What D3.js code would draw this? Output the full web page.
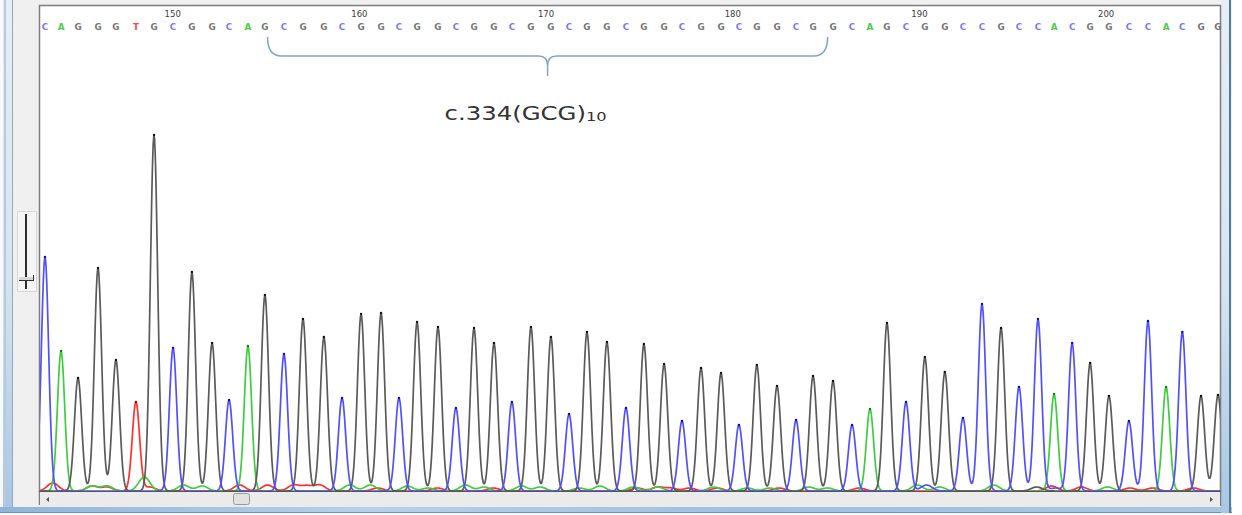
<!DOCTYPE html>
<html>
<head>
<meta charset="utf-8">
<script src="https://cdn.jsdelivr.net/npm/d3@7"></script>
<style>
body { margin: 0; background: #fff; overflow: hidden; }
svg { display: block; }
</style>
</head>
<body>
<svg class="chromatogram" width="1242" height="515"></svg>
<script>
// Base calls in view, starting at position 143
var firstBase = 143;
var bases = ("CAGGGTGCGGCA" + "GCGGCGGCGGCGGCGGCGGCGGCGGCGGCG" + "GCAGCGGCCGCCACGGCCACGG").split("");

// Peak centres (in base-position units)
var peakPos = [143.08, 143.94, 144.85, 145.92, 146.88, 147.95, 148.92, 149.94, 150.95, 152.03,
	152.94, 153.95, 154.86, 155.88, 156.90, 158.02, 158.99, 160.01, 161.08, 162.04,
	163.01, 164.13, 165.09, 166.06, 167.13, 168.09, 169.11, 170.18, 171.15, 172.11,
	173.18, 174.20, 175.16, 176.24, 177.20, 178.22, 179.29, 180.25, 181.21, 182.29,
	183.31, 184.22, 185.29, 186.31, 187.27, 188.18, 189.20, 190.21, 191.28, 192.25,
	193.27, 194.29, 195.25, 196.27, 197.13, 198.10, 199.06, 200.07, 201.14, 202.16,
	203.13, 204.00, 205.00, 205.91];

// Peak heights (signal) for each base call
var peakHeight = [234, 140, 113, 223, 131, 89, 356, 143, 219, 148,
	91, 145, 196, 137, 172, 154, 93, 177, 178, 93,
	169, 164, 83, 163, 148, 89, 164, 154, 77, 159,
	149, 83, 147, 127, 70, 123, 118, 66, 126, 105,
	71, 115, 110, 66, 82, 168, 89, 134, 119, 73,
	187, 163, 104, 172, 97, 148, 128, 95, 70, 170,
	104, 159, 95, 96];

// Small background signals near the baseline: [position, height]
var minorT = [[143.5, 8], [145.6, 5], [146.4, 4], [148.7, 4], [153.5, 6], [155.0, 6], [156.4, 6],
	[157.1, 5], [157.8, 6], [160.9, 3], [164.1, 3], [167.1, 3], [174.8, 3], [175.9, 4],
	[176.6, 3], [177.6, 3], [179.1, 3], [182.4, 3], [186.7, 3], [197.0, 5], [198.6, 4],
	[201.2, 3], [202.4, 3], [204.6, 3]];
var minorA = [[145.6, 5], [146.4, 5], [148.4, 14], [150.5, 6], [151.5, 5], [159.4, 6], [160.5, 6],
	[162.5, 5], [163.6, 3], [165.6, 6], [166.6, 4], [168.6, 5], [169.6, 4], [171.7, 3],
	[172.8, 5], [174.6, 4], [175.9, 4], [178.9, 4], [180.7, 3], [181.9, 3], [184.0, 4],
	[185.0, 3], [189.8, 6], [191.0, 4], [193.9, 6], [200.0, 4]];
var minorC = [[190.3, 6], [197.2, 3]];
var minorG = [[196.2, 4]];

// Ruler labels and the annotated repeat
var rulerTicks = [150, 160, 170, 180, 190, 200];
var repeatStart = 155, repeatEnd = 185;
var repeatLabel = "c.334(GCG)", repeatCount = "10";

var channels = [
	{base: "G", trace: "#5a5a5a", dot: "#111", letter: "#767676", minor: minorG},
	{base: "A", trace: "#40cc40", dot: "#1a7a1a", letter: "#4ccc4c", minor: minorA},
	{base: "T", trace: "#ff3030", dot: "#a00", letter: "#f04a4a", minor: minorT},
	{base: "C", trace: "#5050ff", dot: "#101080", letter: "#7878f4", minor: minorC}
];

function drawChromatogram() {
	var plot = {left: 39, right: 1220, top: 5, bottom: 491};

	var x = d3.scaleLinear()
		.domain([143, 205])
		.range([43.5, 1201]);

	var y = d3.scaleLinear()
		.domain([0, 360])
		.range([plot.bottom, plot.bottom - 360]);

	var svg = d3.select(".chromatogram");
	var defs = svg.append("defs");

	var lg = defs.append("linearGradient").attr("id", "frameL")
		.attr("x1", 0).attr("y1", 0).attr("x2", 0).attr("y2", 1);
	lg.append("stop").attr("offset", "0").attr("stop-color", "#e6eef6");
	lg.append("stop").attr("offset", "0.55").attr("stop-color", "#d6e4f2");
	lg.append("stop").attr("offset", "1").attr("stop-color", "#a9c6e4");

	var bg = defs.append("linearGradient").attr("id", "frameB")
		.attr("x1", 0).attr("y1", 0).attr("x2", 1).attr("y2", 0);
	bg.append("stop").attr("offset", "0").attr("stop-color", "#8fb6da");
	bg.append("stop").attr("offset", "0.3").attr("stop-color", "#b7d0e8");
	bg.append("stop").attr("offset", "0.6").attr("stop-color", "#9fc0e0");
	bg.append("stop").attr("offset", "1").attr("stop-color", "#a8c6e2");

	defs.append("clipPath").attr("id", "plotClip")
	  .append("rect")
		.attr("x", plot.left + 1).attr("y", plot.top + 1)
		.attr("width", plot.right - plot.left - 1)
		.attr("height", plot.bottom - plot.top);

	// Window frame
	svg.append("rect").attr("x", 0).attr("y", 0).attr("width", 1232).attr("height", 514).attr("fill", "#f0f0f0");
	svg.append("rect").attr("x", 0).attr("y", 0).attr("width", 13).attr("height", 510).attr("fill", "url(#frameL)");
	svg.append("rect").attr("x", 0).attr("y", 0).attr("width", 3).attr("height", 510).attr("fill", "#f7f9fb");
	svg.append("rect").attr("x", 4).attr("y", 0).attr("width", 2).attr("height", 508).attr("fill", "#b9c9d9");
	svg.append("rect").attr("x", 12).attr("y", 0).attr("width", 1).attr("height", 508).attr("fill", "#9aa6b2");
	svg.append("rect").attr("x", 0).attr("y", 507).attr("width", 1232).attr("height", 6).attr("fill", "url(#frameB)");
	svg.append("rect").attr("x", 0).attr("y", 512).attr("width", 1232).attr("height", 1).attr("fill", "#6f93b3");
	svg.append("rect").attr("x", 1221).attr("y", 0).attr("width", 8).attr("height", 513).attr("fill", "url(#frameL)");
	svg.append("rect").attr("x", 1229).attr("y", 0).attr("width", 2).attr("height", 513).attr("fill", "#4f7d94");

	// Plot area
	svg.append("rect")
		.attr("x", plot.left).attr("y", plot.top)
		.attr("width", plot.right - plot.left).attr("height", plot.bottom - plot.top)
		.attr("fill", "#fff");
	svg.append("path")
		.attr("d", "M" + (plot.left + 0.5) + "," + (plot.bottom + 14) + "V" + (plot.top + 0.5) + "H" + (plot.right + 0.5) + "V" + (plot.bottom + 15))
		.attr("fill", "none").attr("stroke", "#7d7d7d").attr("stroke-width", 1.5);

	// Zoom slider at the left
	svg.append("rect").attr("x", 17.5).attr("y", 211.5).attr("width", 19).attr("height", 80)
		.attr("fill", "#f5f5f5").attr("stroke", "#d6d6d6");
	svg.append("rect").attr("x", 25).attr("y", 214).attr("width", 2).attr("height", 75).attr("fill", "#2e2e2e");
	svg.append("rect").attr("x", 19).attr("y", 277).attr("width", 15).attr("height", 3).attr("fill", "#d8d8d8");
	svg.append("path").attr("d", "M19,280.5H34M33.5,275V281").attr("stroke", "#333").attr("fill", "none");

	// Scrollbar
	svg.append("rect").attr("x", plot.left + 1).attr("y", plot.bottom + 1)
		.attr("width", plot.right - plot.left - 1).attr("height", 15).attr("fill", "#ebebeb");
	svg.append("rect").attr("x", 233.5).attr("y", 493.5).attr("width", 16).attr("height", 11).attr("rx", 2)
		.attr("fill", "#e2e2e2").attr("stroke", "#9a9a9a");
	svg.append("path").attr("d", "M46,499.5L49,497V502Z").attr("fill", "#555");
	svg.append("path").attr("d", "M1213,499.5L1210,497V502Z").attr("fill", "#555");

	// Ruler numbers
	var ruler = svg.append("g")
		.attr("transform", "translate(-2,17)")
		.call(d3.axisTop(x).tickValues(rulerTicks).tickSize(0).tickPadding(0));
	ruler.select(".domain").remove();
	ruler.selectAll("text")
		.attr("font-family", "DejaVu Sans")
		.attr("font-size", 8.5)
		.attr("fill", "#3c3c3c");

	// Base letters
	var colorOf = {};
	channels.forEach(function(c) { colorOf[c.base] = c; });

	svg.append("g").selectAll("text")
		.data(bases)
	  .enter().append("text")
		.attr("x", function(d, i) { return x(peakPos[i]); })
		.attr("y", 30)
		.attr("text-anchor", "middle")
		.attr("font-family", "DejaVu Sans")
		.attr("font-weight", "bold")
		.attr("font-size", 8.8)
		.attr("fill", function(d) { return colorOf[d].letter; })
		.text(function(d) { return d; });

	// Repeat brace and label
	var bx0 = x(repeatStart), bx1 = x(repeatEnd), bc = x((repeatStart + repeatEnd) / 2);
	var p = d3.path();
	p.moveTo(bx0, 37);
	p.quadraticCurveTo(bx0, 56, bx0 + 14, 56);
	p.lineTo(bc - 9, 56);
	p.quadraticCurveTo(bc, 56, bc, 66);
	p.lineTo(bc, 76);
	p.moveTo(bc, 66);
	p.quadraticCurveTo(bc, 56, bc + 9, 56);
	p.lineTo(bx1 - 14, 56);
	p.quadraticCurveTo(bx1, 56, bx1, 37);
	svg.append("path")
		.attr("d", p.toString())
		.attr("fill", "none")
		.attr("stroke", "#7fa3cf")
		.attr("stroke-width", 1.5);

	var label = svg.append("text")
		.attr("transform", "translate(" + (bc - 103) + ",120) scale(1.25,1)")
		.attr("font-family", "DejaVu Sans")
		.attr("font-size", 19.5)
		.attr("fill", "#333");
	label.append("tspan").text(repeatLabel);
	label.append("tspan").attr("font-size", 13).attr("dy", 1).text(repeatCount);

	// Traces: each channel is the sum of its peaks
	var samples = d3.range(142.4, 206.8, 0.035);
	var sigma = 0.195, sigmaMinor = 0.3;

	var traceLine = d3.line()
		.x(function(d) { return x(d[0]); })
		.y(function(d) { return y(d[1]); });

	var traces = svg.append("g").attr("clip-path", "url(#plotClip)");

	["T", "A", "G", "C"].forEach(function(b) {
		var ch = colorOf[b];
		var peaks = [];
		bases.forEach(function(d, i) {
			if (d === b) peaks.push({p: peakPos[i], h: peakHeight[i], s: sigma});
		});
		ch.minor.forEach(function(m) { peaks.push({p: m[0], h: m[1], s: sigmaMinor}); });

		var data = samples.map(function(s) {
			var v = 0;
			peaks.forEach(function(k) {
				var t = (s - k.p) / k.s;
				v += k.h * Math.exp(-0.5 * t * t);
			});
			return [s, v];
		});

		traces.append("path")
			.datum(data)
			.attr("fill", "none")
			.attr("stroke", ch.trace)
			.attr("stroke-width", 1.7)
			.attr("stroke-linejoin", "round")
			.attr("d", traceLine);

		traces.selectAll(".apex" + b)
			.data(peaks.filter(function(k) { return k.s === sigma; }))
		  .enter().append("circle")
			.attr("cx", function(k) { return x(k.p); })
			.attr("cy", function(k) { return y(k.h); })
			.attr("r", 1.2)
			.attr("fill", ch.dot);
	});

	// baseline
	svg.append("line")
		.attr("x1", plot.left).attr("x2", plot.right + 1)
		.attr("y1", plot.bottom + 0.5).attr("y2", plot.bottom + 0.5)
		.attr("stroke", "#555");
}

drawChromatogram();
</script>
</body>
</html>
